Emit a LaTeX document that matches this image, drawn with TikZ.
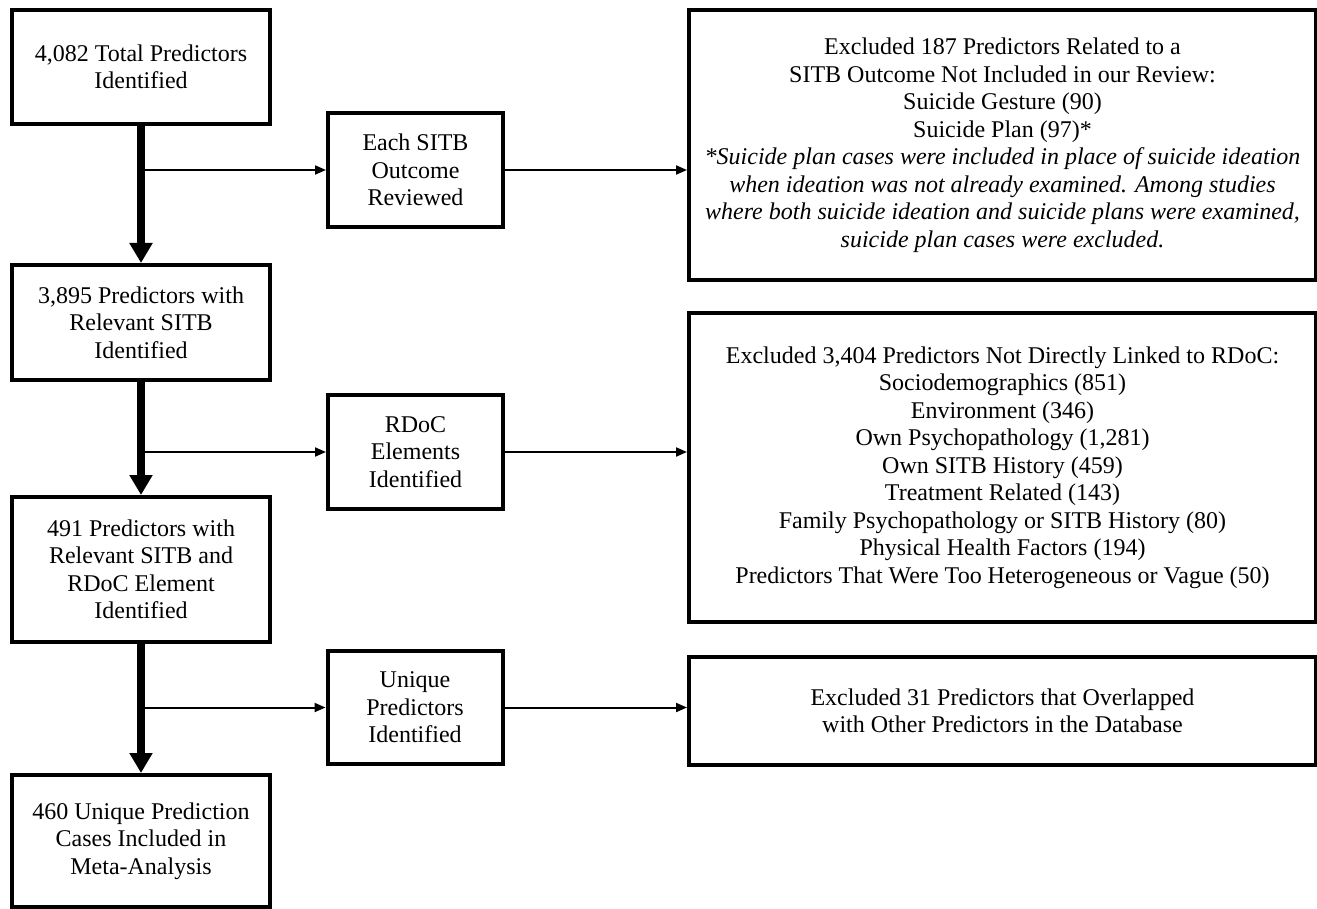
\documentclass[tikz,border=0pt]{standalone}
\usepackage{fontspec}
\setmainfont{Liberation Serif}
\usepackage{tikz}
\usetikzlibrary{arrows.meta,positioning,calc}

\begin{document}
\begin{tikzpicture}
[x=0.5pt,y=-0.5pt,
every node/.style={font=\fontsize{12}{13.75}\selectfont,align=center},
stagebox/.style={draw=black,line width=2pt,inner sep=0pt,minimum width=129pt},
checkbox/.style={draw=black,line width=2pt,inner sep=0pt,minimum width=87.5pt},
exclbox/.style={draw=black,line width=2pt,inner sep=0pt,minimum width=313.5pt},
bigarrow/.style={line width=4pt,-{Triangle[width=11pt,length=10pt]}},
smallarrow/.style={line width=1pt,-{Triangle[width=4.5pt,length=5.5pt]}}]
\useasboundingbox (0,0) rectangle (1317,909);
% left column
\node[stagebox,minimum height=57pt] (total) at (141,67) {4,082 Total Predictors\\Identified};
\node[stagebox,minimum height=57.5pt] (relevant) at (141,322.5) {3,895 Predictors with\\Relevant SITB\\Identified};
\node[stagebox,minimum height=72.5pt] (rdoc) at (141,569.5) {491 Predictors with\\Relevant SITB and\\RDoC Element\\Identified};
\node[stagebox,minimum height=66pt] (final) at (141,841) {460 Unique Prediction\\Cases Included in\\Meta-Analysis};
% middle column
\node[checkbox,minimum height=57pt] (reviewed) at (415.5,170) {Each SITB\\Outcome\\Reviewed};
\node[checkbox,minimum height=57pt] (elements) at (415.5,452) {RDoC\\Elements\\Identified};
\node[checkbox,minimum height=56.5pt] (unique) at (415,707.5) {Unique\\Predictors\\Identified};
% right column
\node[exclbox,minimum height=135pt] (exclA) at (1002.5,145) {Excluded 187 Predictors Related to a\\SITB Outcome Not Included in our Review:\\Suicide Gesture (90)\\Suicide Plan (97)*\\
\textit{*Suicide plan cases were included in place of suicide ideation}\\
\textit{when ideation was not already examined. Among studies}\\
\textit{where both suicide ideation and suicide plans were examined,}\\
\textit{suicide plan cases were excluded.}};
\node[exclbox,minimum height=154.5pt] (exclB) at (1002.5,467.5) {Excluded 3,404 Predictors Not Directly Linked to RDoC:\\Sociodemographics (851)\\Environment (346)\\Own Psychopathology (1,281)\\Own SITB History (459)\\Treatment Related (143)\\Family Psychopathology or SITB History (80)\\Physical Health Factors (194)\\Predictors That Were Too Heterogeneous or Vague (50)};
\node[exclbox,minimum height=54pt] (exclC) at (1002.5,711) {Excluded 31 Predictors that Overlapped\\with Other Predictors in the Database};
% main flow
\draw[bigarrow] (total) -- (relevant);
\draw[bigarrow] (relevant) -- (rdoc);
\draw[bigarrow] (rdoc) -- (final);
% side branches
\draw[smallarrow] (total.south |- reviewed.west) -- (reviewed.west);
\draw[smallarrow] (relevant.south |- elements.west) -- (elements.west);
\draw[smallarrow] (rdoc.south |- unique.west) -- (unique.west);
\draw[smallarrow] (reviewed.east) -- (reviewed.east -| exclA.west);
\draw[smallarrow] (elements.east) -- (elements.east -| exclB.west);
\draw[smallarrow] (unique.east) -- (unique.east -| exclC.west);
\end{tikzpicture}
\end{document}
